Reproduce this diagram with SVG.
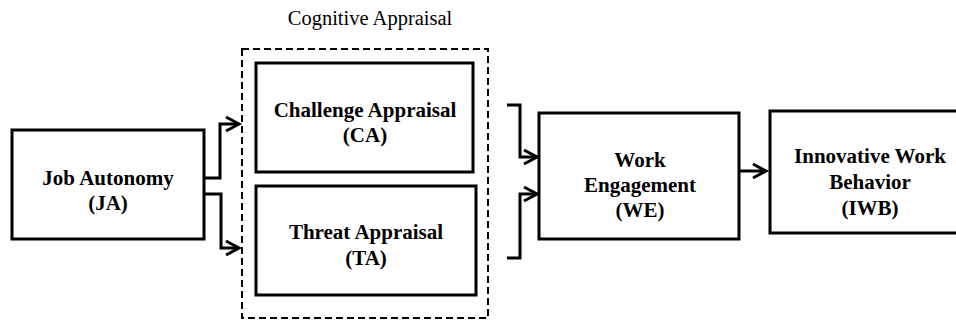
<svg xmlns="http://www.w3.org/2000/svg" width="956" height="320" viewBox="0 0 956 320">
<style>
.box{fill:#fff;stroke:#000;stroke-width:3}
.t{font-family:"Liberation Serif","Times New Roman",serif;font-size:21px;font-weight:bold;text-anchor:middle;fill:#000}
.title{font-family:"Liberation Serif","Times New Roman",serif;font-size:20.5px;text-anchor:middle;fill:#000}
.c{fill:none;stroke:#000;stroke-width:3}
.ah{fill:none;stroke:#000;stroke-width:3;stroke-linejoin:miter}
</style>
<rect width="956" height="320" fill="#fff"/>
<g id="cognitive-appraisal">
<text class="title" x="370" y="25">Cognitive Appraisal</text>
<rect x="242" y="49" width="246" height="269" fill="none" stroke="#000" stroke-width="2" stroke-dasharray="7,4"/>
</g>
<g id="JA">
<rect class="box" x="12" y="130" width="192" height="109"/>
<text class="t" x="108" y="185">Job Autonomy</text>
<text class="t" x="108" y="210">(JA)</text>
</g>
<g id="CA">
<rect class="box" x="256" y="63" width="217" height="109"/>
<text class="t" x="365" y="117">Challenge Appraisal</text>
<text class="t" x="365" y="142">(CA)</text>
</g>
<g id="TA">
<rect class="box" x="256" y="186" width="220" height="109"/>
<text class="t" x="366" y="239">Threat Appraisal</text>
<text class="t" x="366" y="265">(TA)</text>
</g>
<g id="WE">
<rect class="box" x="539" y="113" width="200" height="126"/>
<text class="t" x="640" y="167">Work</text>
<text class="t" x="640" y="192">Engagement</text>
<text class="t" x="640" y="217">(WE)</text>
</g>
<g id="IWB">
<rect class="box" x="770" y="111" width="200" height="122"/>
<text class="t" x="870" y="163">Innovative Work</text>
<text class="t" x="870" y="189">Behavior</text>
<text class="t" x="870" y="215">(IWB)</text>
</g>
<g id="connectors">
<polyline class="c" points="204,178 220,178 220,124 239,124"/>
<polyline class="ah" points="226,117 239,124 226,131"/>
<polyline class="c" points="204,194 221,194 221,248 239,248"/>
<polyline class="ah" points="226,241 239,248 226,255"/>
<polyline class="c" points="507,105 520,105 520,157 537,157"/>
<polyline class="ah" points="524,150 537,157 524,164"/>
<polyline class="c" points="507,258 520,258 520,194 537,194"/>
<polyline class="ah" points="524,187 537,194 524,201"/>
<polyline class="c" points="739,171 766,171"/>
<polyline class="ah" points="753,164 766,171 753,178"/>
</g>
</svg>
